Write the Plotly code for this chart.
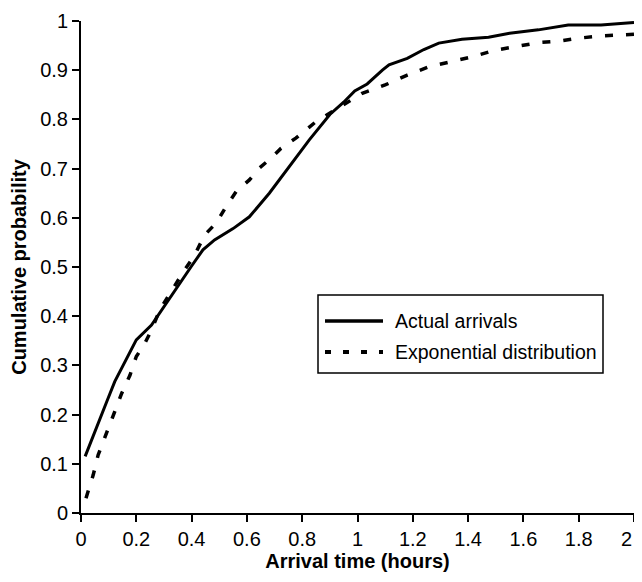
import plotly.graph_objects as go

# ---- data ----
actual_x = [0.015, 0.055, 0.093, 0.122, 0.147, 0.2, 0.255, 0.3, 0.35, 0.4, 0.441,
            0.483, 0.55, 0.609, 0.681, 0.753, 0.825, 0.9, 0.95, 0.99, 1.035,
            1.09, 1.114, 1.18, 1.24, 1.294, 1.378, 1.474, 1.55, 1.654, 1.762,
            1.881, 2.0]
actual_y = [0.115, 0.17, 0.226, 0.267, 0.294, 0.352, 0.382, 0.42, 0.46, 0.502, 0.535,
            0.555, 0.578, 0.602, 0.65, 0.704, 0.758, 0.81, 0.835, 0.858, 0.872,
            0.9, 0.911, 0.924, 0.942, 0.955, 0.963, 0.967, 0.975, 0.982, 0.992,
            0.992, 0.997]

expo_x = [0.018, 0.044, 0.062, 0.093, 0.122, 0.147, 0.177, 0.2, 0.231, 0.255,
          0.285, 0.333, 0.37, 0.411, 0.447, 0.49, 0.525, 0.561, 0.609, 0.645,
          0.687, 0.723, 0.777, 0.849, 0.945, 1.017, 1.1, 1.18, 1.258, 1.336,
          1.414, 1.492, 1.576, 1.654, 1.726, 1.798, 1.888, 1.966, 2.0]
expo_y = [0.03, 0.077, 0.118, 0.165, 0.209, 0.243, 0.28, 0.318, 0.345, 0.372,
          0.413, 0.457, 0.49, 0.524, 0.565, 0.59, 0.623, 0.653, 0.677, 0.701,
          0.721, 0.741, 0.762, 0.795, 0.829, 0.853, 0.87, 0.89, 0.907, 0.917,
          0.927, 0.94, 0.949, 0.956, 0.959, 0.965, 0.97, 0.972, 0.973]

series_names = ["Actual arrivals", "Exponential distribution"]

x_tickvals = [0, 0.2, 0.4, 0.6, 0.8, 1.0, 1.2, 1.4, 1.6, 1.8, 2.0]
x_ticktext = ["0", "0.2", "0.4", "0.6", "0.8", "1", "1.2", "1.4", "1.6", "1.8", "2"]
y_tickvals = [0, 0.1, 0.2, 0.3, 0.4, 0.5, 0.6, 0.7, 0.8, 0.9, 1.0]
y_ticktext = ["0", "0.1", "0.2", "0.3", "0.4", "0.5", "0.6", "0.7", "0.8", "0.9", "1"]

x_title = "Arrival time (hours)"
y_title = "Cumulative probability"

FONT = "Liberation Sans, Arial, sans-serif"
FS = 20
LEG_FS = 19.5

# the page body has an 8px margin on every side; size the figure so that
# the page fits the 642x582 window exactly, and work in page pixels
OFF = 8
W, H = 642 - 2 * OFF, 582 - 2 * OFF
L, R, T, B = 81 - OFF, W, 21 - OFF, 513 - OFF


def px(x):
    return (x - OFF - L) / (R - L)


def py(y):
    return (B - (y - OFF)) / (B - T)


fig = go.Figure()
fig.add_trace(go.Scatter(x=actual_x, y=actual_y, mode="lines", name=series_names[0],
                         line=dict(color="black", width=3), showlegend=False))
fig.add_trace(go.Scatter(x=expo_x, y=expo_y, mode="lines", name=series_names[1],
                         line=dict(color="black", width=3.5, dash="8px,13px"),
                         showlegend=False))

# ---- legend box drawn in paper coordinates (reference pixel positions) ----
fig.add_shape(type="rect", xref="paper", yref="paper",
              x0=px(318), x1=px(603), y0=py(373), y1=py(295),
              line=dict(color="black", width=1.5), fillcolor="white", layer="above")
fig.add_shape(type="line", xref="paper", yref="paper",
              x0=px(325), x1=px(383), y0=py(321), y1=py(321),
              line=dict(color="black", width=3.5))
fig.add_shape(type="line", xref="paper", yref="paper",
              x0=px(325), x1=px(383), y0=py(352), y1=py(352),
              line=dict(color="black", width=4, dash="6px,12px"))
for name, yy in zip(series_names, [321, 352]):
    fig.add_annotation(xref="paper", yref="paper", x=px(393), y=py(yy),
                       xanchor="left", yanchor="middle", text=name, showarrow=False,
                       font=dict(family=FONT, size=LEG_FS, color="black"))

# the last x tick label sits at the right edge of the figure; keep it fully
# visible by right-aligning it against the edge at the same height as the others
x_labels_axis = x_ticktext[:-1] + [""]
fig.add_annotation(xref="x", yref="paper", x=x_tickvals[-1], y=0,
                   xanchor="right", yanchor="middle", yshift=-26,
                   text=x_ticktext[-1], showarrow=False,
                   font=dict(family=FONT, size=FS, color="black"))

axis_common = dict(showline=True, linecolor="black", linewidth=2, ticks="outside",
                   ticklen=7, tickwidth=1.5, tickcolor="black", showgrid=False,
                   zeroline=False,
                   tickfont=dict(family=FONT, size=FS, color="black"))

fig.update_layout(
    width=W, height=H,
    margin=dict(l=L, r=W - R, t=T, b=H - B),
    paper_bgcolor="white", plot_bgcolor="white",
    font=dict(family=FONT, color="black"),
    xaxis=dict(range=[0, 2], tickmode="array", tickvals=x_tickvals, ticktext=x_labels_axis,
               automargin=False,
               title=dict(text="<b>" + x_title + "</b>", font=dict(family=FONT, size=FS),
                          standoff=2),
               **axis_common),
    yaxis=dict(range=[0, 1], tickmode="array", tickvals=y_tickvals, ticktext=y_ticktext,
               title=dict(text="<b>" + y_title + "</b>", font=dict(family=FONT, size=FS),
                          standoff=10),
               **axis_common),
)

fig.write_html("out.html")
